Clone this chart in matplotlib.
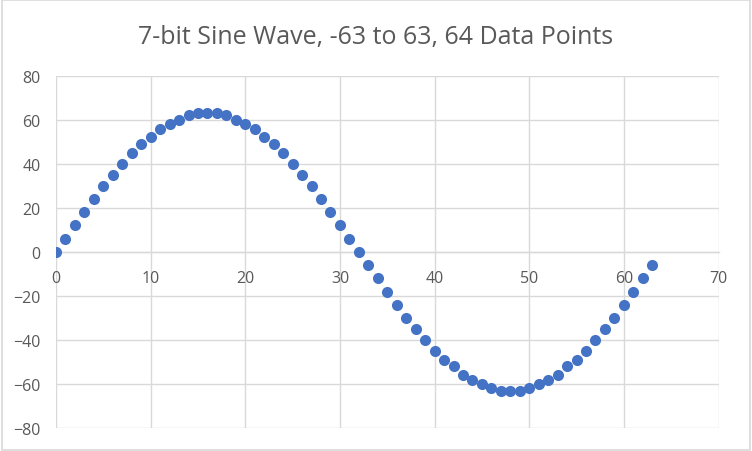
import matplotlib
matplotlib.use("Agg")
import matplotlib.pyplot as plt
from matplotlib.patches import Rectangle

# sample index and 7-bit sine value
sample = list(range(64))
value = [0, 6, 12, 18, 24, 30, 35, 40, 45, 49, 52, 56, 58, 60, 62, 63,
         63, 63, 62, 60, 58, 56, 52, 49, 45, 40, 35, 30, 24, 18, 12, 6,
         0, -6, -12, -18, -24, -30, -35, -40, -45, -49, -52, -56, -58, -60, -62, -63,
         -63, -63, -62, -60, -58, -56, -52, -49, -45, -40, -35, -30, -24, -18, -12, -6]
x_ticks = [0, 10, 20, 30, 40, 50, 60, 70]
y_ticks = [-80, -60, -40, -20, 0, 20, 40, 60, 80]

title = "7-bit Sine Wave, -63 to 63, 64 Data Points"
blue = "#4472C4"
grey_txt = "#595959"
grid_col = "#D9D9D9"

plt.rcParams['font.family'] = ['Open Sans', 'DejaVu Sans']

fig = plt.figure(figsize=(7.52, 4.52), dpi=100)
ax = fig.add_axes([0.0745, 0.051, 0.881, 0.779])

ax.plot(sample, value, linestyle='none', marker='o', markersize=8,
        color=blue, markeredgewidth=0, zorder=3)

ax.set_xlim(0, 70)
ax.set_ylim(-80, 80)
ax.set_xticks(x_ticks)
ax.set_yticks(y_ticks)
ax.grid(True, color=grid_col, linewidth=1.0)
ax.set_axisbelow(True)

for side in ['top', 'right', 'left']:
    ax.spines[side].set_visible(False)
ax.spines['bottom'].set_position(('data', 0))
ax.spines['bottom'].set_color(grid_col)
ax.spines['bottom'].set_linewidth(1.0)

ax.tick_params(axis='both', length=0, colors=grey_txt, labelsize=11.5)
ax.tick_params(axis='x', pad=13)
ax.tick_params(axis='y', pad=11)

fig.text(0.5, 0.917, title, ha='center', va='center', fontsize=18,
         color=grey_txt)

# thin border round the whole chart
fig.patches.append(Rectangle((0.002, 0.003), 0.996, 0.994, transform=fig.transFigure,
                             fill=False, edgecolor=grid_col, linewidth=1.2))

fig.savefig("out.png", dpi=100)
